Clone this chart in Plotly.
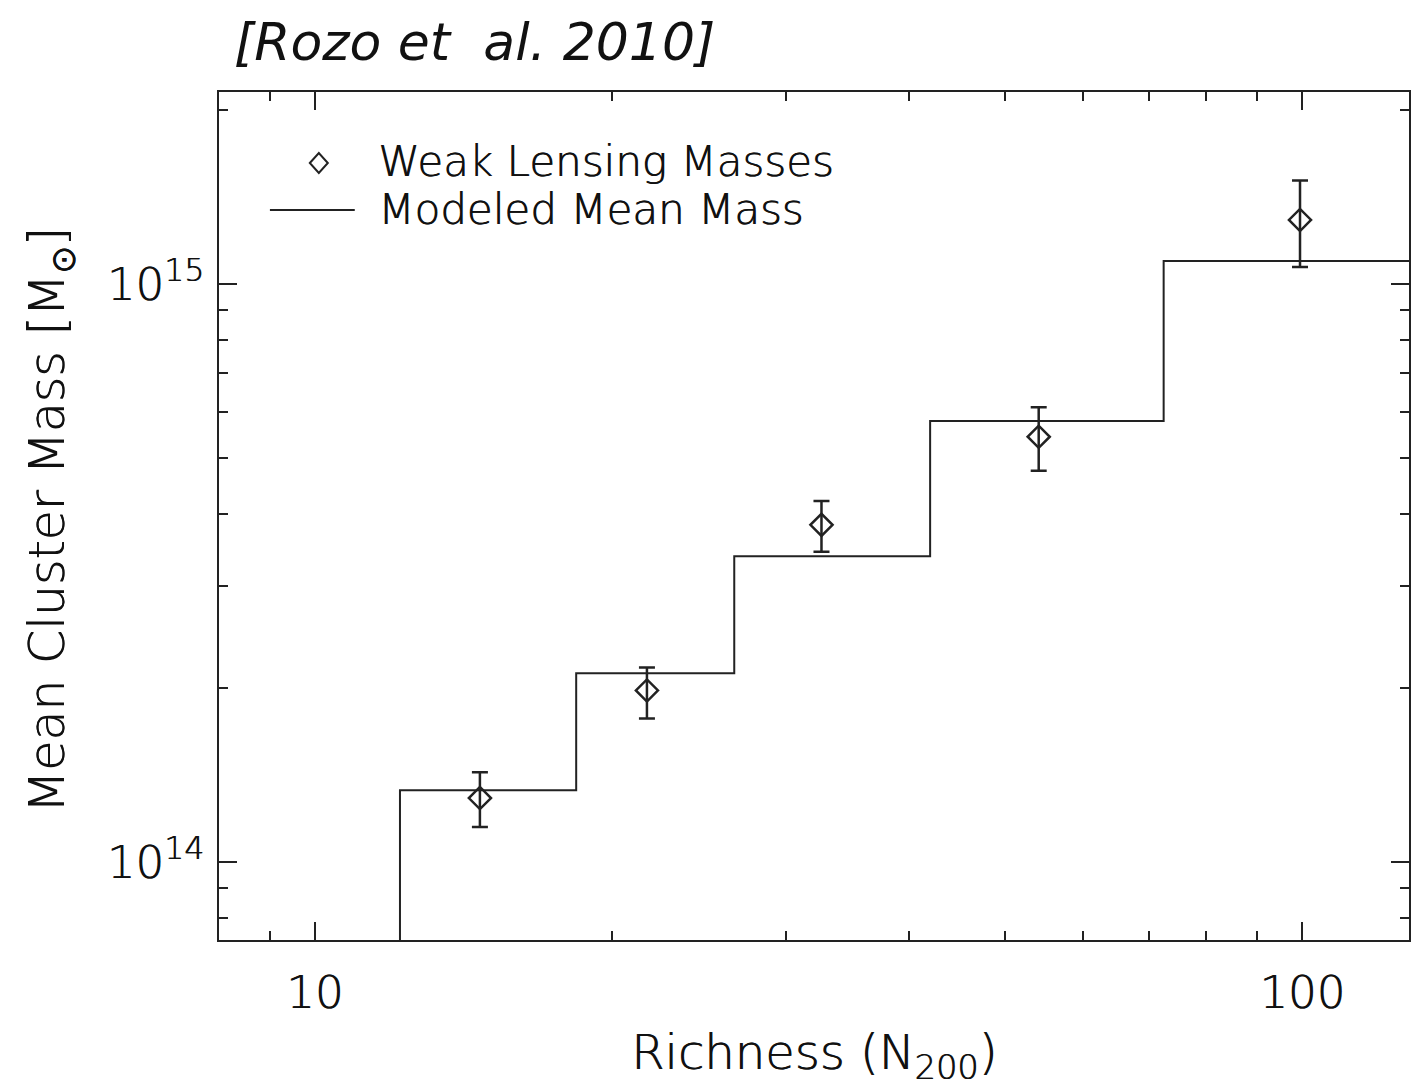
import numpy as np
import plotly.graph_objects as go

# Weak-lensing mean cluster masses in richness bins
richness = [14.7, 21.7, 32.6, 54.1, 99.5]
wl_mass = [1.29e14, 1.98e14, 3.83e14, 5.44e14, 1.29e15]
wl_err_hi = [0.14e14, 0.19e14, 0.38e14, 0.68e14, 0.22e15]
wl_err_lo = [0.14e14, 0.21e14, 0.39e14, 0.69e14, 0.22e15]

# Modeled mean mass, piecewise constant over richness bins
bin_edges = [8.0, 12.2, 18.4, 26.6, 42.0, 72.4, 130.0]
model_mass = [5.0e13, 1.33e14, 2.12e14, 3.38e14, 5.79e14, 1.096e15]

x_major = [10, 100]
x_major_text = ["10", "100"]
x_minor = [8, 9, 20, 30, 40, 50, 60, 70, 80, 90]
y_major = [1e14, 1e15]
y_major_text = ["10<sup>14</sup>", "10<sup>15</sup>"]
y_minor = [8e13, 9e13, 2e14, 3e14, 4e14, 5e14, 6e14, 7e14, 8e14, 9e14, 2e15]

INK = "#222222"
TXT = "#111111"
FONT = "DejaVu Sans"
THICKEN = "0.7px 0px 0px #111111"
W, H = 1411, 1088
L, R, T, B = 219, 0, 92, 148
PW, PH = W - L - R, H - T - B


def px(x):
    return (x - L) / PW


def py(y):
    return (H - B - y) / PH


def light(size):
    return dict(family=FONT, size=size, color=TXT, weight=300, shadow=THICKEN)


fig = go.Figure()

fig.add_trace(go.Scatter(
    x=bin_edges,
    y=model_mass + [model_mass[-1]],
    mode="lines",
    line=dict(shape="hv", color=INK, width=2),
    showlegend=False,
))

fig.add_trace(go.Scatter(
    x=richness,
    y=wl_mass,
    mode="markers",
    marker=dict(symbol="diamond-open", size=17, color=INK, line=dict(width=2.5, color=INK)),
    error_y=dict(type="data", symmetric=False, array=wl_err_hi, arrayminus=wl_err_lo,
                 color=INK, thickness=2.5, width=8),
    showlegend=False,
))

axis_common = dict(
    type="log",
    showline=True, linewidth=2, linecolor=INK,
    mirror="allticks",
    ticks="inside", ticklen=18, tickwidth=2, tickcolor=INK,
    showgrid=False, zeroline=False,
    tickfont=light(45),
)

fig.update_layout(
    width=W, height=H,
    margin=dict(l=L, r=R, t=T, b=B),
    paper_bgcolor="white", plot_bgcolor="white",
    xaxis=dict(
        axis_common,
        range=[np.log10(8.0), 2.1082],
        tickvals=x_major, ticktext=x_major_text,
        ticklabelstandoff=12,
        minor=dict(tickvals=x_minor, ticks="inside", ticklen=9, tickwidth=2,
                   tickcolor=INK, showgrid=False),
    ),
    yaxis=dict(
        axis_common,
        range=[13.865, 15.332],
        tickvals=y_major, ticktext=y_major_text,
        ticklabelstandoff=4,
        minor=dict(tickvals=y_minor, ticks="inside", ticklen=9, tickwidth=2,
                   tickcolor=INK, showgrid=False),
    ),
    showlegend=False,
)

# Key in the upper-left corner of the plot
fig.add_shape(type="path", xref="paper", yref="paper",
              xsizemode="pixel", ysizemode="pixel",
              xanchor=px(319), yanchor=py(163),
              path="M -9,0 L 0,10 L 9,0 L 0,-10 Z",
              line=dict(color=INK, width=2))
fig.add_shape(type="line", xref="paper", yref="paper",
              x0=px(270), x1=px(355), y0=py(210), y1=py(210),
              line=dict(color=INK, width=2))

fig.add_annotation(text="Weak Lensing Masses", xref="paper", yref="paper",
                   x=px(376), y=py(161), xanchor="left", yanchor="middle",
                   showarrow=False, font=light(42))
fig.add_annotation(text="Modeled Mean Mass", xref="paper", yref="paper",
                   x=px(376), y=py(209), xanchor="left", yanchor="middle",
                   showarrow=False, font=light(42))

# Axis titles
fig.add_annotation(text="Richness (N<sub>200</sub>)", xref="paper", yref="paper",
                   x=px(815), y=py(1055), xanchor="center", yanchor="middle",
                   showarrow=False, font=light(48))
fig.add_annotation(text="Mean Cluster Mass [M<sub>\u2299</sub>]", xref="paper", yref="paper",
                   x=px(50), y=py(520), xanchor="center", yanchor="middle",
                   textangle=-90, showarrow=False, font=light(49))

# Citation heading
fig.add_annotation(text="<i>[Rozo et\u00a0 al. 2010]</i>", xref="paper", yref="paper",
                   x=px(232), y=py(42), xanchor="left", yanchor="middle",
                   showarrow=False,
                   font=dict(family=FONT, size=52, color="#111111", weight=300))

fig.write_html("out.html")
